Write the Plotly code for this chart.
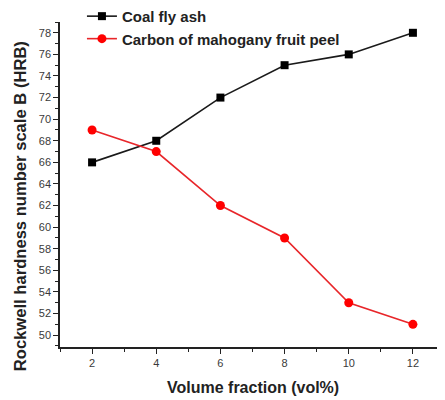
import plotly.graph_objects as go

# ── Data ───────────────────────────────────────────────────────────────────
volume_fraction = [2, 4, 6, 8, 10, 12]
coal_fly_ash = [66, 68, 72, 75, 76, 78]
mahogany_peel = [69, 67, 62, 59, 53, 51]

X_TITLE = "Volume fraction (vol%)"
Y_TITLE = "Rockwell hardness number scale B (HRB)"

FONT = "Arial, Liberation Sans, sans-serif"
TICK_COLOR = "#3a3a3a"
AXIS_COLOR = "#222222"

fig = go.Figure()

fig.add_trace(go.Scatter(
    x=volume_fraction,
    y=coal_fly_ash,
    mode="lines+markers",
    name="<b>Coal fly ash</b>",
    line=dict(color="#1a1a1a", width=1.6),
    marker=dict(symbol="square", size=8, color="#000000"),
))

fig.add_trace(go.Scatter(
    x=volume_fraction,
    y=mahogany_peel,
    mode="lines+markers",
    name="<b>Carbon of mahogany fruit peel</b>",
    line=dict(color="#e8262a", width=1.6),
    marker=dict(symbol="circle", size=9, color="#ff0000"),
))

axis_common = dict(
    showline=True,
    linecolor=AXIS_COLOR,
    linewidth=1.5,
    showgrid=False,
    zeroline=False,
    automargin=False,
    ticks="outside",
    ticklen=5,
    tickwidth=1.2,
    tickcolor=AXIS_COLOR,
    tickfont=dict(family=FONT, size=11, color=TICK_COLOR),
    minor=dict(ticks="outside", ticklen=3, tickwidth=1, tickcolor=AXIS_COLOR, dtick=1),
)

# the page body adds an 8px margin, so the figure is 8px smaller than the window
fig.update_layout(
    width=437,
    height=392,
    paper_bgcolor="white",
    plot_bgcolor="white",
    margin=dict(l=52, r=0, t=14, b=53, autoexpand=False),
    xaxis=dict(**axis_common, range=[1, 13], tickvals=volume_fraction),
    yaxis=dict(**axis_common, range=[48.9, 79], dtick=2, tick0=50),
    legend=dict(
        x=0.057,
        y=1.068,
        xanchor="left",
        yanchor="top",
        bgcolor="rgba(0,0,0,0)",
        font=dict(family=FONT, size=15, color="#222222"),
        tracegroupgap=0,
        itemwidth=30,
    ),
    showlegend=True,
)

# axis titles as annotations so they sit exactly where the reference has them
fig.add_annotation(
    text=f"<b>{X_TITLE}</b>", xref="paper", yref="paper",
    x=0.501, y=-0.126, xanchor="center", yanchor="middle", showarrow=False,
    font=dict(family=FONT, size=16, color=AXIS_COLOR),
)
fig.add_annotation(
    text=f"<b>{Y_TITLE}</b>", xref="paper", yref="paper",
    x=-0.104, y=0.433, xanchor="center", yanchor="middle", showarrow=False,
    textangle=-90,
    font=dict(family=FONT, size=16.6, color=AXIS_COLOR),
)

fig.write_html("out.html")
